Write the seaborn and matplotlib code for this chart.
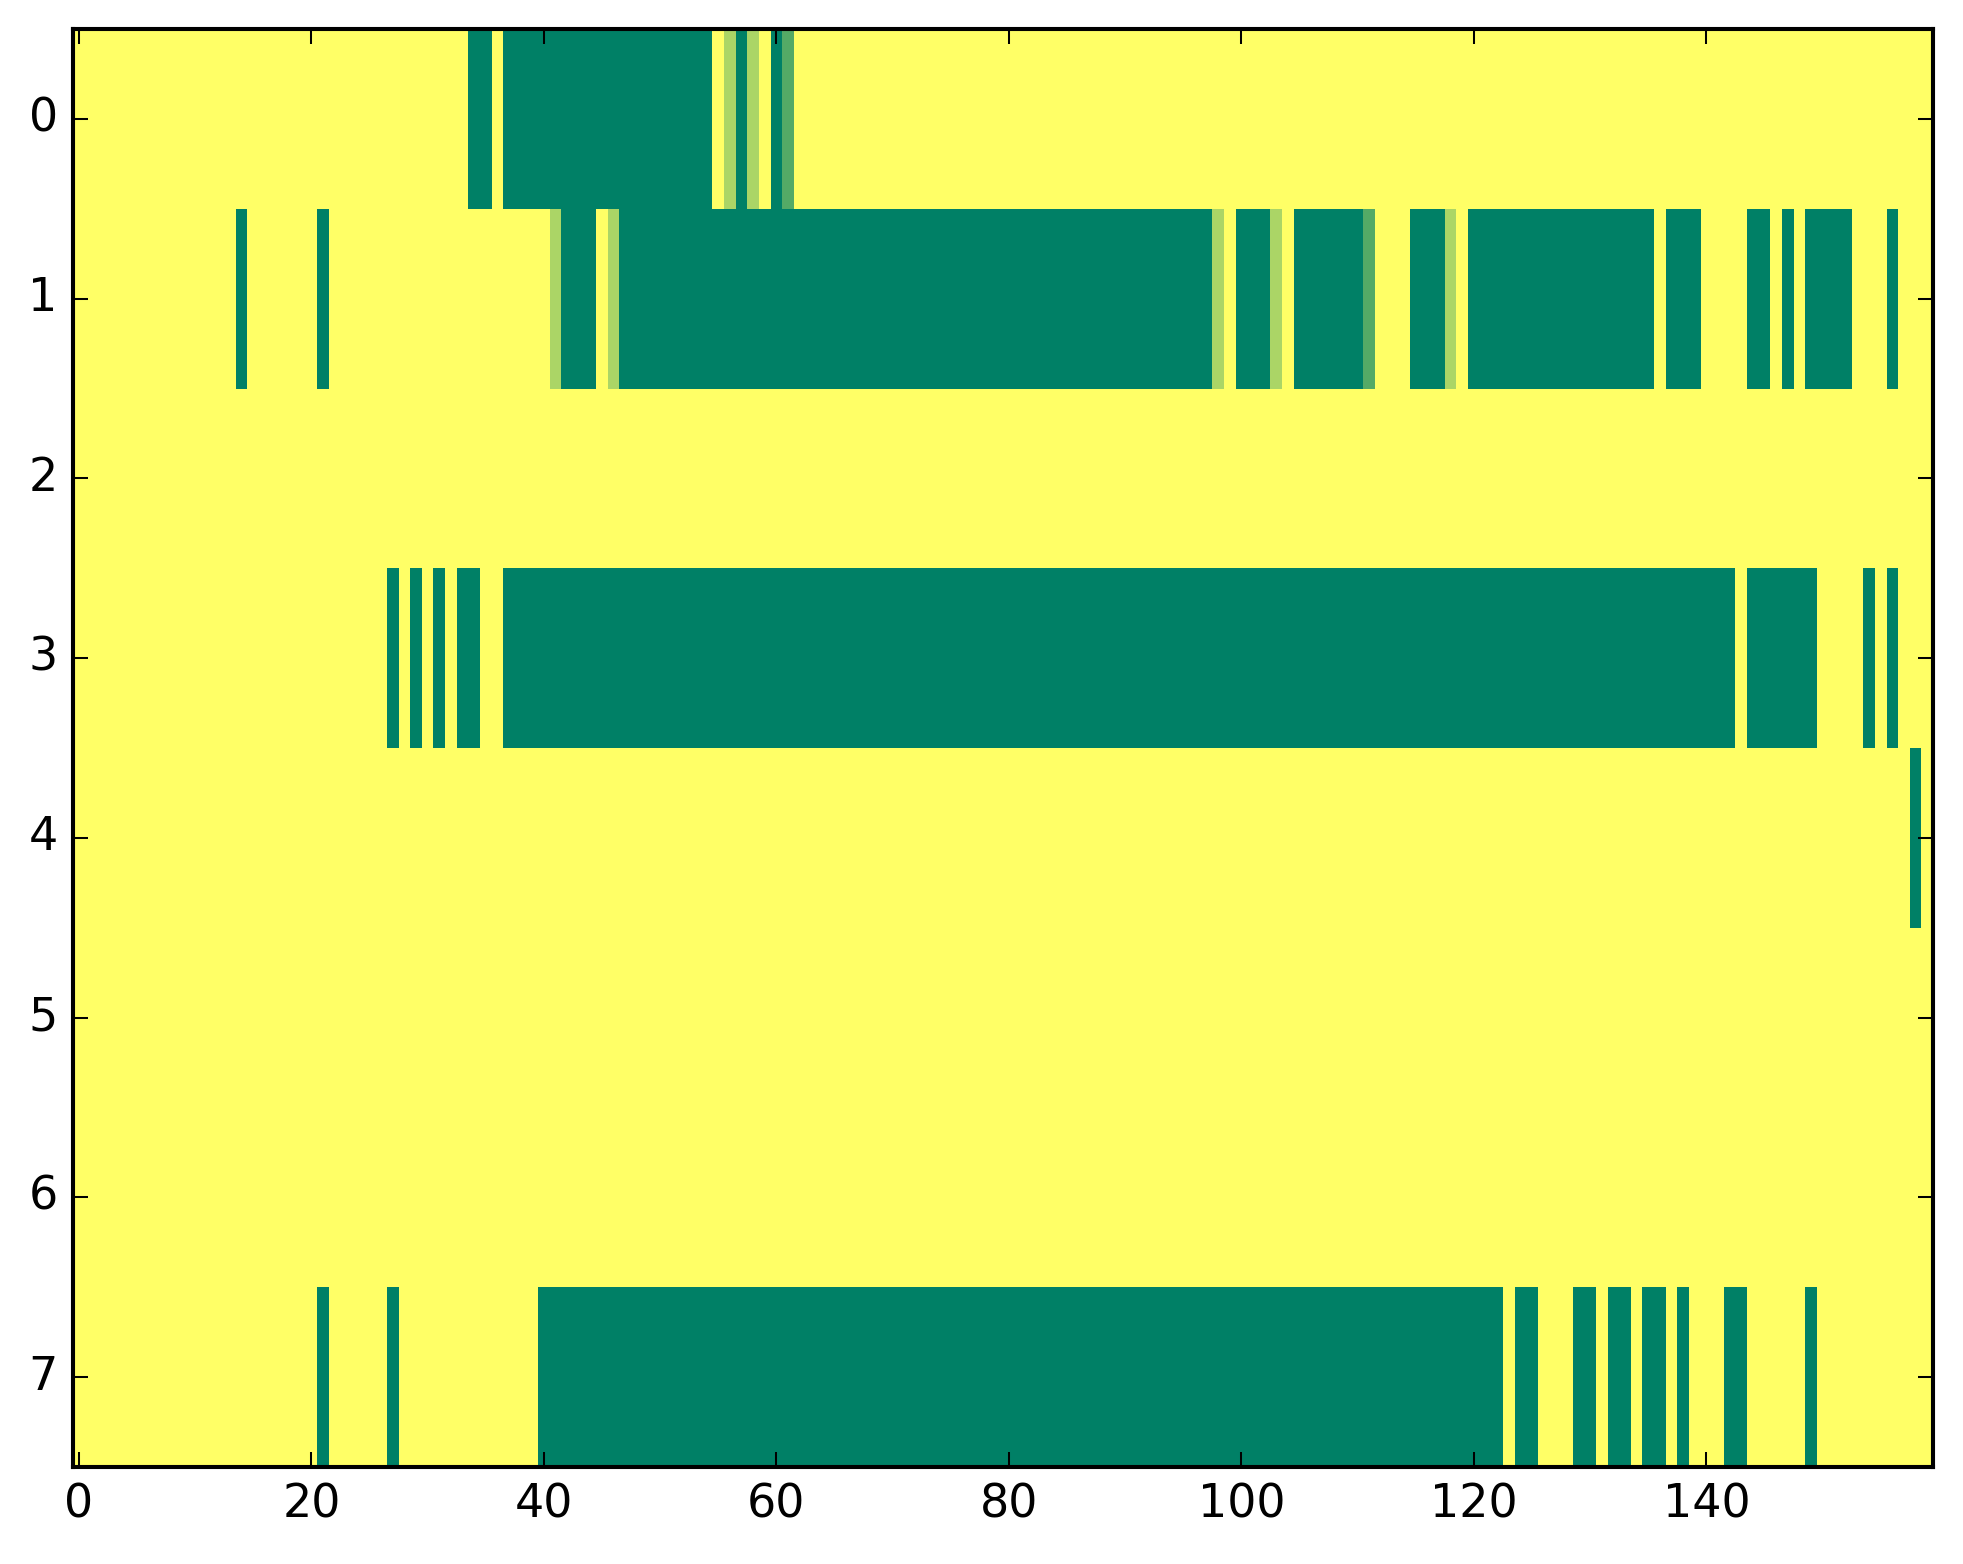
import numpy as np
import matplotlib
matplotlib.use("Agg")
import matplotlib.pyplot as plt
import seaborn as sns

# Values per row as run-length pairs (value, number of columns).
# 1 = yellow, 0 = green, intermediate values are lighter greens.
row0 = [(1, 34), (0, 2), (1, 1), (0, 18), (1, 1), (0.67, 1), (0, 1), (0.67, 1),
        (1, 1), (0, 1), (0.33, 1), (1, 98)]
row1 = [(1, 14), (0, 1), (1, 6), (0, 1), (1, 19), (0.67, 1), (0, 3), (1, 1),
        (0.67, 1), (0, 51), (0.67, 1), (1, 1), (0, 3), (0.67, 1), (1, 1), (0, 6),
        (0.33, 1), (1, 3), (0, 3), (0.67, 1), (1, 1), (0, 16), (1, 1), (0, 3),
        (1, 4), (0, 2), (1, 1), (0, 1), (1, 1), (0, 4), (1, 3), (0, 1), (1, 3)]
row2 = [(1, 160)]
row3 = [(1, 27), (0, 1), (1, 1), (0, 1), (1, 1), (0, 1), (1, 1), (0, 2), (1, 2),
        (0, 106), (1, 1), (0, 6), (1, 4), (0, 1), (1, 1), (0, 1), (1, 3)]
row4 = [(1, 158), (0, 1), (1, 1)]
row5 = [(1, 160)]
row6 = [(1, 160)]
row7 = [(1, 21), (0, 1), (1, 5), (0, 1), (1, 12), (0, 83), (1, 1), (0, 2), (1, 3),
        (0, 2), (1, 1), (0, 2), (1, 1), (0, 2), (1, 1), (0, 1), (1, 3), (0, 2),
        (1, 5), (0, 1), (1, 10)]

x_ticks = [0, 20, 40, 60, 80, 100, 120, 140]
y_ticks = [0, 1, 2, 3, 4, 5, 6, 7]


def expand(runs):
    vals = [v for v, n in runs]
    counts = [n for v, n in runs]
    return np.repeat(vals, counts)


data = np.vstack([expand(r) for r in [row0, row1, row2, row3, row4, row5, row6, row7]])

plt.rcParams['font.family'] = ['DejaVu Sans']
DPI = 245
fig = plt.figure(figsize=(1963 / DPI, 1564 / DPI), dpi=DPI)
ax = fig.add_axes([73 / 1963, 1 - 1467 / 1564, (1933 - 73) / 1963, (1467 - 29) / 1564])

sns.heatmap(data, cmap="summer", vmin=0, vmax=1, cbar=False, ax=ax, linewidths=0)

for s in ax.spines.values():
    s.set_visible(True)
    s.set_linewidth(1.2)
    s.set_color("black")

ax.set_xticks(np.array(x_ticks) + 0.5)
ax.set_xticklabels([str(t) for t in x_ticks], rotation=0)
ax.set_yticks(np.array(y_ticks) + 0.5)
ax.set_yticklabels([str(t) for t in y_ticks], rotation=0)
ax.set_xlim(0, data.shape[1])
ax.set_ylim(data.shape[0], 0)
ax.tick_params(direction="in", top=True, right=True, bottom=True, left=True,
               length=4.5, width=0.6, labelsize=13.5, pad=4.5, color="black")
ax.set_xlabel("")
ax.set_ylabel("")

fig.savefig("out.png", dpi=DPI)
